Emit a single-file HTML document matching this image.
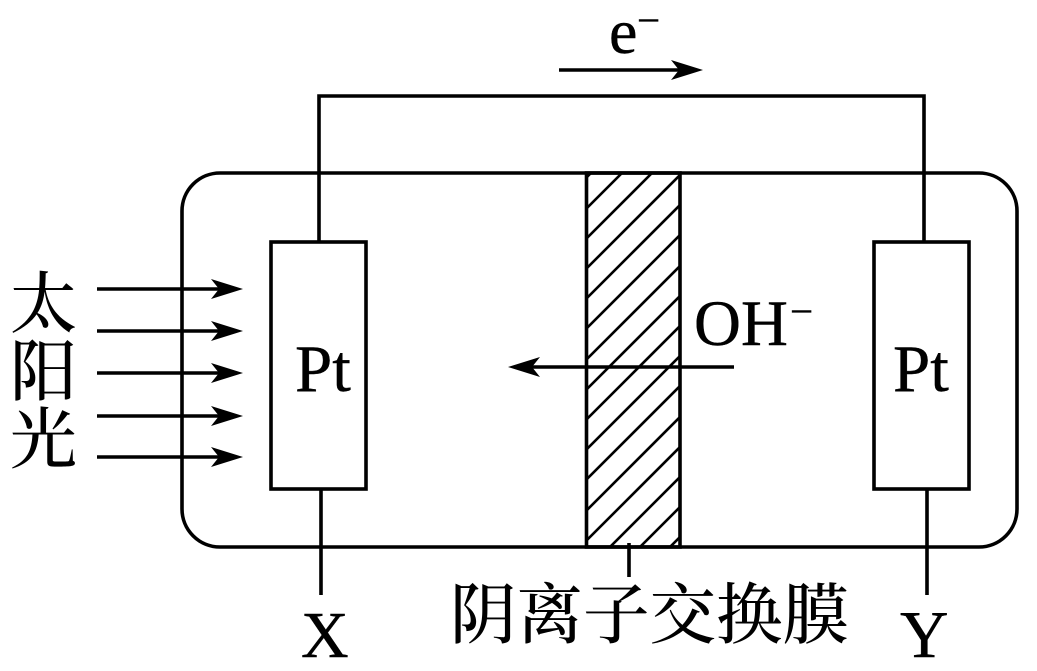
<!DOCTYPE html>
<html>
<head>
<meta charset="utf-8">
<style>
html,body{margin:0;padding:0;background:#fff;}
svg{display:block;}
text{fill:#000;}
.l{font-family:"Liberation Serif",serif;stroke:#000;stroke-width:.4;}
.c{font-family:"Noto Serif CJK SC","Liberation Serif",serif;font-weight:500;}
</style>
</head>
<body>
<svg width="1037" height="671" viewBox="0 0 1037 671" xmlns="http://www.w3.org/2000/svg">
<defs>
<clipPath id="m"><rect x="586" y="173" width="94" height="374"/></clipPath>
</defs>
<rect width="1037" height="671" fill="#fff"/>
<!-- hatch: 45 degree lines with x+y constant, spaced 30.2 apart -->
<g clip-path="url(#m)" stroke="#000" stroke-width="2.6" fill="none">
<path d="M586 178L591 173M586 209L622 173M586 239L652 173M586 269L682 173M586 299L682 203M586 329L682 233M586 360L682 264M586 390L682 294M586 420L682 324M586 450L682 354M586 480L682 384M586 511L682 415M586 541L682 445M586 571L682 475M616 571L682 505M646 571L682 535M676 571L682 565"/>
</g>
<g fill="none" stroke="#000" stroke-width="3.6">
<rect x="182" y="173" width="835" height="374" rx="38" ry="38"/>
<rect x="586.5" y="173" width="93.5" height="374"/>
<path d="M319 242V96H924V242"/>
<rect x="271" y="242" width="95" height="247" fill="#fff"/>
<rect x="874" y="242" width="95" height="247" fill="#fff"/>
<path d="M321 489V595M927 489V595M629 543V577"/>
<path d="M559 70H680"/>
<path d="M97 289H220M97 331H220M97 373H220M97 416H220M97 457H220"/>
<path d="M734 367H530"/>
</g>
<g fill="#000">
<path d="M703 70L671 60L679 70L671 80Z"/>
<path d="M243 289L211 279L219 289L211 299Z"/>
<path d="M243 331L211 321L219 331L211 341Z"/>
<path d="M243 373L211 363L219 373L211 383Z"/>
<path d="M243 416L211 406L219 416L211 426Z"/>
<path d="M243 457L211 447L219 457L211 467Z"/>
<path d="M508 367L540 357L532 367L540 377Z"/>
</g>
<text class="l" x="609" y="53" font-size="64">e</text>
<text class="l" x="637" y="34" font-size="41">−</text>
<text class="l" x="295" y="391" font-size="67">Pt</text>
<text class="l" x="893" y="391" font-size="67">Pt</text>
<text class="l" x="694" y="345" font-size="65">OH</text>
<text class="l" x="790" y="325" font-size="41">−</text>
<text class="l" x="301" y="657" font-size="66">X</text>
<text class="l" x="900" y="657" font-size="67">Y</text>
<text class="c" x="10" y="327" font-size="67">太</text>
<text class="c" x="10" y="395" font-size="67">阳</text>
<text class="c" x="10" y="463" font-size="67">光</text>
<text class="c" x="450" y="638" font-size="66.5">阴离子交换膜</text>
</svg>
</body>
</html>
